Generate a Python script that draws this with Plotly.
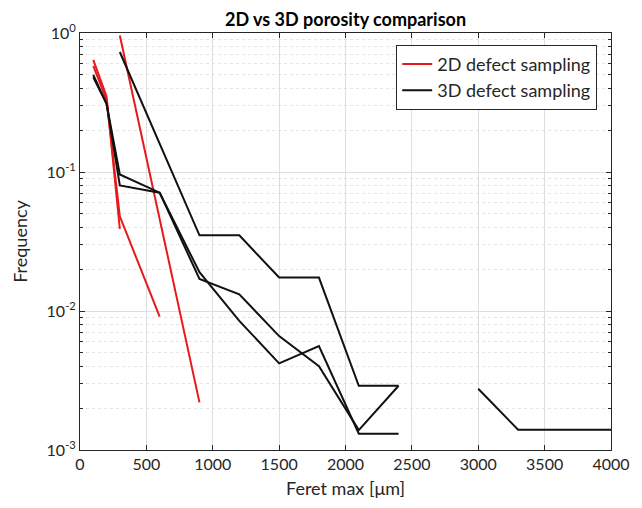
import plotly.graph_objects as go

# 2D defect sampling curves (red)
red_a_x = [100, 200, 300]
red_a_y = [0.64, 0.35, 0.039]
red_b_x = [100, 200, 300, 600]
red_b_y = [0.58, 0.33, 0.048, 0.0091]
red_c_x = [300, 900]
red_c_y = [0.96, 0.0022]

# 3D defect sampling curves (black)
blk_a_x = [300, 900, 1200, 1500, 1800, 2100, 2400]
blk_a_y = [0.73, 0.035, 0.035, 0.0174, 0.0174, 0.0029, 0.0029]
blk_b_x = [100, 200, 300, 600, 900, 1200, 1500, 1800, 2100, 2400, 2700, 3000, 3300, 3600, 3900, 4200]
blk_b_y = [0.50, 0.31, 0.096, 0.071, 0.017, 0.0132, 0.0066, 0.0040, 0.00139, 0.0029, None, 0.00276, 0.0014, 0.0014, 0.0014, 0.0014]
blk_c_x = [100, 200, 300, 600, 900, 1200, 1500, 1800, 2100, 2400]
blk_c_y = [0.48, 0.31, 0.080, 0.071, 0.019, 0.0085, 0.0042, 0.0056, 0.00131, 0.00131]

x_ticks = [0, 500, 1000, 1500, 2000, 2500, 3000, 3500, 4000]
y_tickvals = [1, 0.1, 0.01, 0.001]
y_ticktext = ["10<sup>0</sup>", "10<sup>-1</sup>", "10<sup>-2</sup>", "10<sup>-3</sup>"]

fig = go.Figure()

def add(x, y, color, name, show):
    fig.add_trace(go.Scatter(
        x=x, y=y, mode="lines", name=name, legendgroup=name, showlegend=show,
        line=dict(color=color, width=2),
        connectgaps=False, cliponaxis=True))

add(red_a_x, red_a_y, "#e8191c", "2D defect sampling", True)
add(red_b_x, red_b_y, "#e8191c", "2D defect sampling", False)
add(red_c_x, red_c_y, "#e8191c", "2D defect sampling", False)
add(blk_a_x, blk_a_y, "#111111", "3D defect sampling", True)
add(blk_b_x, blk_b_y, "#111111", "3D defect sampling", False)
add(blk_c_x, blk_c_y, "#111111", "3D defect sampling", False)

minor_vals = [k * 10 ** e for e in (-3, -2, -1) for k in range(2, 10)]

fig.update_layout(
    width=634, height=500,
    paper_bgcolor="white", plot_bgcolor="white",
    margin=dict(l=70, r=31, t=25, b=57),
    font=dict(family="Lato, 'Open Sans', sans-serif", size=14, color="#262626"),
    title=dict(text="<b>2D vs 3D porosity comparison</b>", x=0.5, xanchor="center",
               xref="paper", y=1 - 12 / 500, yanchor="middle",
               font=dict(size=18, color="#000000")),
    showlegend=True,
    legend=dict(x=0.974, xanchor="right", y=0.972, yanchor="top",
                bgcolor="white", bordercolor="#262626", borderwidth=1,
                font=dict(size=18, color="#262626"), tracegroupgap=0),
)
fig.update_xaxes(
    range=[0, 4000], tickvals=x_ticks, ticks="inside", ticklen=5, tickcolor="#262626",
    showline=True, linecolor="#262626", linewidth=1, mirror="ticks",
    showgrid=True, gridcolor="#dedede", gridwidth=1, zeroline=False,
    title=dict(text="Feret max [μm]", font=dict(size=18), standoff=10),
    tickfont=dict(size=16),
)
fig.update_yaxes(
    type="log", range=[-3, 0], tickvals=y_tickvals, ticktext=y_ticktext,
    ticks="inside", ticklen=5, tickcolor="#262626",
    showline=True, linecolor="#262626", linewidth=1, mirror="ticks",
    showgrid=True, gridcolor="#dedede", gridwidth=1, zeroline=False,
    minor=dict(tickvals=minor_vals, ticks="inside", ticklen=3, tickcolor="#262626",
               showgrid=True, gridcolor="#e4e4e4", griddash="dot"),
    title=dict(text="Frequency", font=dict(size=18), standoff=14),
    tickfont=dict(size=16),
)

fig.write_html("out.html")
